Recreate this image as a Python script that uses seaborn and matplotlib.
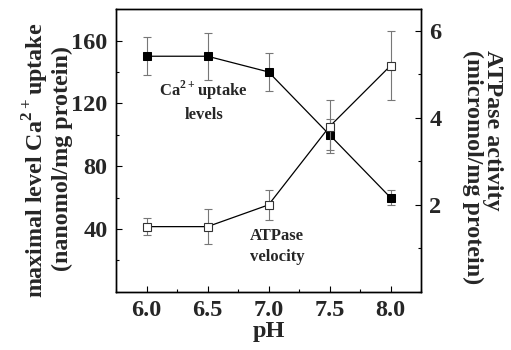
import matplotlib
matplotlib.use("Agg")
import matplotlib.pyplot as plt
import seaborn as sns
import pandas as pd
from matplotlib.ticker import MultipleLocator

sns.set_theme(style="ticks")
plt.rcParams['font.family'] = ['Liberation Serif', 'DejaVu Serif']
plt.rcParams['font.weight'] = 'bold'
plt.rcParams['mathtext.fontset'] = 'custom'
plt.rcParams['mathtext.rm'] = 'Liberation Serif:bold'
plt.rcParams['mathtext.bf'] = 'Liberation Serif:bold'

ph = [6.0, 6.5, 7.0, 7.5, 8.0]
ca_uptake = [150, 150, 140, 100, 60]
ca_err = [12, 15, 12, 10, 5]
atpase = [1.5, 1.5, 2.0, 3.8, 5.2]
atpase_err = [0.2, 0.4, 0.35, 0.6, 0.8]

df = pd.DataFrame({"pH": ph, "ca": ca_uptake, "ca_err": ca_err,
                   "atp": atpase, "atp_err": atpase_err})

fig = plt.figure(figsize=(5.11, 3.5), dpi=100)
ax = fig.add_axes([0.227, 0.166, 0.597, 0.808])
ax2 = ax.twinx()

err_kw = dict(fmt="none", ecolor="#777777", elinewidth=0.8, capsize=3, capthick=0.8)
ax.errorbar(df["pH"], df["ca"], yerr=df["ca_err"], zorder=2, **err_kw)
sns.lineplot(data=df, x="pH", y="ca", ax=ax, color="black", linewidth=0.9,
             marker="s", markersize=6, markerfacecolor="black",
             markeredgecolor="black", zorder=3)

ax2.errorbar(df["pH"], df["atp"], yerr=df["atp_err"], zorder=2, **err_kw)
sns.lineplot(data=df, x="pH", y="atp", ax=ax2, color="black", linewidth=0.9,
             marker="s", markersize=6, markerfacecolor="white",
             markeredgecolor="#333333", markeredgewidth=0.8, zorder=3)

ax.set_xlim(5.75, 8.25)
ax.set_ylim(0, 180)
ax2.set_ylim(0, 6.5)

ax.set_xticks([6.0, 6.5, 7.0, 7.5, 8.0])
ax.set_xticklabels(["6.0", "6.5", "7.0", "7.5", "8.0"])
ax.xaxis.set_minor_locator(MultipleLocator(0.25))
ax.set_yticks([40, 80, 120, 160])
ax.yaxis.set_minor_locator(MultipleLocator(20))
ax2.set_yticks([2, 4, 6])
ax2.yaxis.set_minor_locator(MultipleLocator(1))

for a in (ax, ax2):
    a.tick_params(which="major", direction="in", length=4, width=0.8,
                  labelsize=17.5, color="black", pad=6)
    a.tick_params(which="minor", direction="in", length=2.5, width=0.8,
                  color="black")
    for s in a.spines.values():
        s.set_color("black")
        s.set_linewidth(1.0)
ax.tick_params(axis="y", which="both", right=False)
ax.tick_params(axis="x", which="both", top=False)
for lbl in ax.get_xticklabels() + ax.get_yticklabels() + ax2.get_yticklabels():
    lbl.set_fontweight("bold")

ax.set_xlabel("pH", fontsize=17.5, fontweight="bold", labelpad=0)
ax.set_ylabel("")
ax2.set_ylabel("")

fs = 17.3
fig.text(0.071, 0.543, "maximal level Ca$^{2+}$uptake", rotation=90,
         fontsize=fs, fontweight="bold", ha="center", va="center")
fig.text(0.123, 0.546, "(nanomol/mg protein)", rotation=90,
         fontsize=fs, fontweight="bold", ha="center", va="center")
fig.text(0.964, 0.857, "ATPase activity", rotation=270,
         fontsize=fs, fontweight="bold", ha="center", va="top")
fig.text(0.924, 0.857, "(micromol/mg protein)", rotation=270,
         fontsize=fs, fontweight="bold", ha="center", va="top")

ax.text(6.47, 121.5, "Ca$^{2+}$uptake\nlevels", fontsize=12, fontweight="bold",
        ha="center", va="center", linespacing=1.45)
ax2.text(7.07, 1.05, "ATPase\nvelocity", fontsize=12, fontweight="bold",
         ha="center", va="center", linespacing=1.45)

sns.despine(ax=ax, top=False, right=False)
fig.savefig("out.png", dpi=100)
